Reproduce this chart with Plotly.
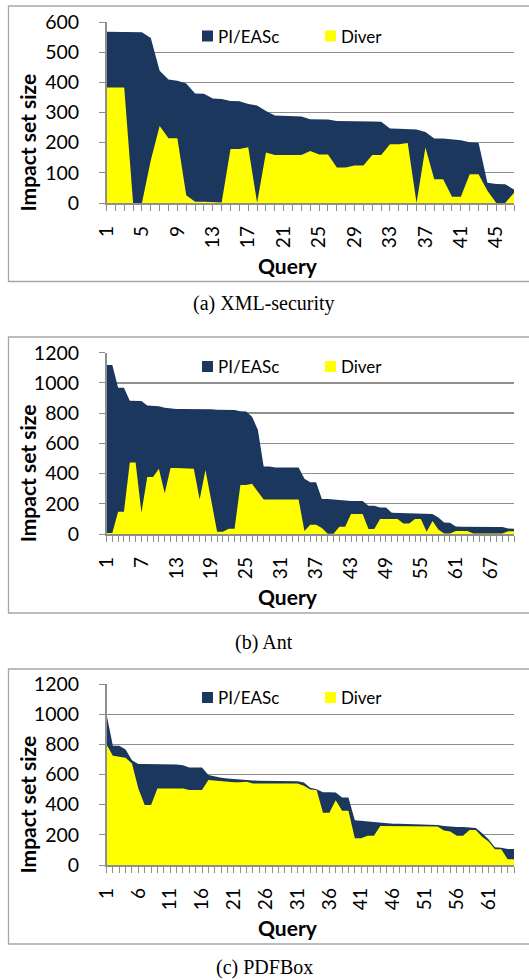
import plotly.graph_objects as go

W, H = 529, 980

# ---------------- data ----------------
pi_a = [568, 568, 568, 567, 566, 547, 438, 409, 405, 396,
        363, 362, 346, 345, 338, 337, 328, 323, 305, 290,
        289, 288, 287, 278, 278, 277, 272, 272, 271, 271,
        270, 269, 247, 246, 245, 244, 235, 214, 214, 210,
        208, 201, 200, 67, 63, 62, 45]
diver_a = [383, 383, 383, 0, 0, 142, 255, 215, 215, 26,
           4, 4, 2, 2, 179, 179, 185, 1, 167, 159,
           159, 159, 159, 172, 161, 161, 118, 118, 124, 124,
           159, 159, 195, 195, 199, 0, 184, 79, 79, 21,
           21, 95, 95, 41, 0, 0, 34]

pi_b = [1118, 1118, 968, 968, 882, 882, 880, 851, 849, 845,
        836, 829, 827, 827, 827, 826, 826, 826, 826, 822,
        821, 821, 820, 812, 810, 776, 690, 446, 446, 440,
        440, 440, 440, 440, 365, 342, 342, 232, 232, 228,
        222, 218, 218, 218, 218, 187, 187, 176, 176, 140,
        139, 139, 138, 137, 135, 133, 133, 110, 76, 75,
        50, 48, 47, 46, 46, 46, 46, 46, 46, 37, 35]
diver_b = [7, 7, 148, 148, 474, 474, 141, 377, 377, 432,
           269, 437, 437, 437, 437, 432, 229, 424, 220, 15,
           15, 35, 35, 324, 324, 333, 280, 229, 229, 229,
           229, 229, 229, 229, 20, 62, 62, 40, 2, 2,
           48, 48, 132, 132, 132, 33, 33, 99, 99, 99,
           99, 70, 70, 99, 99, 15, 86, 30, 4, 4,
           20, 20, 20, 4, 4, 4, 4, 4, 4, 18, 18]

pi_c = [1000, 790, 790, 766, 695, 669, 669, 669, 669, 669,
        669, 667, 662, 647, 647, 647, 596, 585, 578, 574,
        570, 565, 563, 561, 559, 558, 557, 556, 556, 556,
        555, 547, 512, 503, 482, 482, 480, 448, 448, 296,
        292, 288, 286, 278, 276, 274, 273, 272, 271, 270,
        269, 268, 266, 258, 254, 252, 252, 250, 245, 210,
        170, 118, 115, 106, 106]
diver_c = [799, 724, 718, 711, 673, 508, 397, 397, 508, 508,
           508, 508, 508, 497, 497, 497, 563, 559, 552, 552,
           548, 548, 552, 541, 541, 541, 541, 541, 541, 541,
           541, 525, 500, 498, 347, 347, 430, 360, 360, 177,
           177, 194, 194, 258, 258, 258, 257, 257, 256, 256,
           256, 256, 255, 228, 222, 194, 194, 232, 232, 188,
           155, 104, 104, 38, 38]

series_names = ["PI/EASc", "Diver"]
captions = ["(a) XML-security", "(b) Ant", "(c) PDFBox"]
y_max = [600, 1200, 1200]
y_step = [100, 200, 200]
x_label_step = [4, 6, 5]
x_title = "Query"
y_title = "Impact set size"

panels = [(pi_a, diver_a), (pi_b, diver_b), (pi_c, diver_c)]

# ---------------- style / layout (pixels) ----------------
NAVY = "#1b375d"
YELLOW = "#ffff00"
GRID = "#8e8e8e"
BOX = "#a6a6a6"
FONT = "Lato"
SERIF = "Liberation Serif"

plot_left, plot_right = 106.5, 514
geo = [
    dict(y0=203, y1=22, btop=6, bbot=281.5, leg=30.5, cap=304),
    dict(y0=534, y1=352.7, btop=337, bbot=613, leg=361, cap=642),
    dict(y0=865, y1=684, btop=669, bbot=944, leg=692, cap=967),
]


def px(x):
    return x / W


def py(y):
    return 1 - y / H


fig = go.Figure()
shapes, annotations = [], []
layout_axes = {}

for k, ((pi, dv), g) in enumerate(zip(panels, geo)):
    n = len(pi)
    q = list(range(1, n + 1))
    sfx = "" if k == 0 else str(k + 1)
    xa, ya = "x" + sfx, "y" + sfx
    fig.add_trace(go.Scatter(x=q, y=pi, name=series_names[0], mode="lines",
                             fill="tozeroy", fillcolor=NAVY,
                             line=dict(width=0, color=NAVY),
                             xaxis=xa, yaxis=ya, showlegend=False))
    fig.add_trace(go.Scatter(x=q, y=dv, name=series_names[1], mode="lines",
                             fill="tozeroy", fillcolor=YELLOW,
                             line=dict(width=0, color=YELLOW),
                             xaxis=xa, yaxis=ya, showlegend=False))

    step = x_label_step[k]
    layout_axes["xaxis" + sfx] = dict(
        domain=[px(plot_left), px(plot_right)], anchor=ya, automargin=False,
        range=[1, n], tickmode="array", tickvals=q,
        ticktext=[str(i) if (i - 1) % step == 0 else "" for i in q],
        tickangle=-90, ticks="outside", ticklen=6, tickwidth=1,
        tickcolor=GRID, showline=True, linecolor=GRID, linewidth=1.5,
        showgrid=False, zeroline=False, ticklabelstandoff=8,
        tickfont=dict(family=FONT, size=19, color="#000000"),
    )
    layout_axes["yaxis" + sfx] = dict(
        domain=[py(g["y0"]), py(g["y1"])], anchor=xa, automargin=False,
        range=[0, y_max[k]], tickmode="linear", tick0=0, dtick=y_step[k],
        ticks="outside", ticklen=6, tickwidth=1, tickcolor=GRID,
        showline=True, linecolor=GRID, linewidth=1.5,
        showgrid=True, gridcolor=GRID, gridwidth=1.3, zeroline=False,
        ticklabelstandoff=16,
        tickfont=dict(family=FONT, size=19.5, color="#000000"),
    )

    # outer box (right side runs past the picture edge)
    shapes.append(dict(type="rect", xref="paper", yref="paper",
                       x0=px(8.5), x1=px(560), y0=py(g["bbot"]), y1=py(g["btop"]),
                       line=dict(color=BOX, width=1.3), fillcolor="rgba(0,0,0,0)",
                       layer="below"))
    # legend squares + texts
    for (sx, col, name) in [(202, NAVY, series_names[0]), (325, YELLOW, series_names[1])]:
        shapes.append(dict(type="rect", xref="paper", yref="paper",
                           x0=px(sx), x1=px(sx + 11), y0=py(g["leg"] + 11), y1=py(g["leg"]),
                           line=dict(width=0), fillcolor=col))
        annotations.append(dict(text=name, xref="paper", yref="paper",
                                x=px(sx + 14), y=py(g["leg"] + 5.5), xanchor="left",
                                yanchor="middle", showarrow=False,
                                font=dict(family=FONT, size=17, color="#000000")))
    # axis titles
    annotations.append(dict(text="<b>" + y_title + "</b>", xref="paper", yref="paper",
                            x=px(27), y=py((g["y0"] + g["y1"]) / 2 + 30), textangle=-90,
                            xanchor="center", yanchor="middle", showarrow=False,
                            font=dict(family=FONT, size=21, color="#000000")))
    annotations.append(dict(text="<b>" + x_title + "</b>", xref="paper", yref="paper",
                            x=px(288), y=py(g["y0"] + 62), xanchor="center",
                            yanchor="middle", showarrow=False,
                            font=dict(family=FONT, size=21, color="#000000")))
    # caption
    annotations.append(dict(text=captions[k], xref="paper", yref="paper",
                            x=px(264), y=py(g["cap"]), xanchor="center",
                            yanchor="middle", showarrow=False,
                            font=dict(family=SERIF, size=20, color="#000000")))

fig.update_layout(
    width=W, height=H, margin=dict(l=0, r=0, t=0, b=0),
    paper_bgcolor="white", plot_bgcolor="white",
    showlegend=False, shapes=shapes, annotations=annotations,
    **layout_axes,
)

fig.write_html("out.html",
               config={"displayModeBar": False, "staticPlot": True},
               post_script="document.body.style.margin='0';"
                           "document.body.style.overflow='hidden';")
